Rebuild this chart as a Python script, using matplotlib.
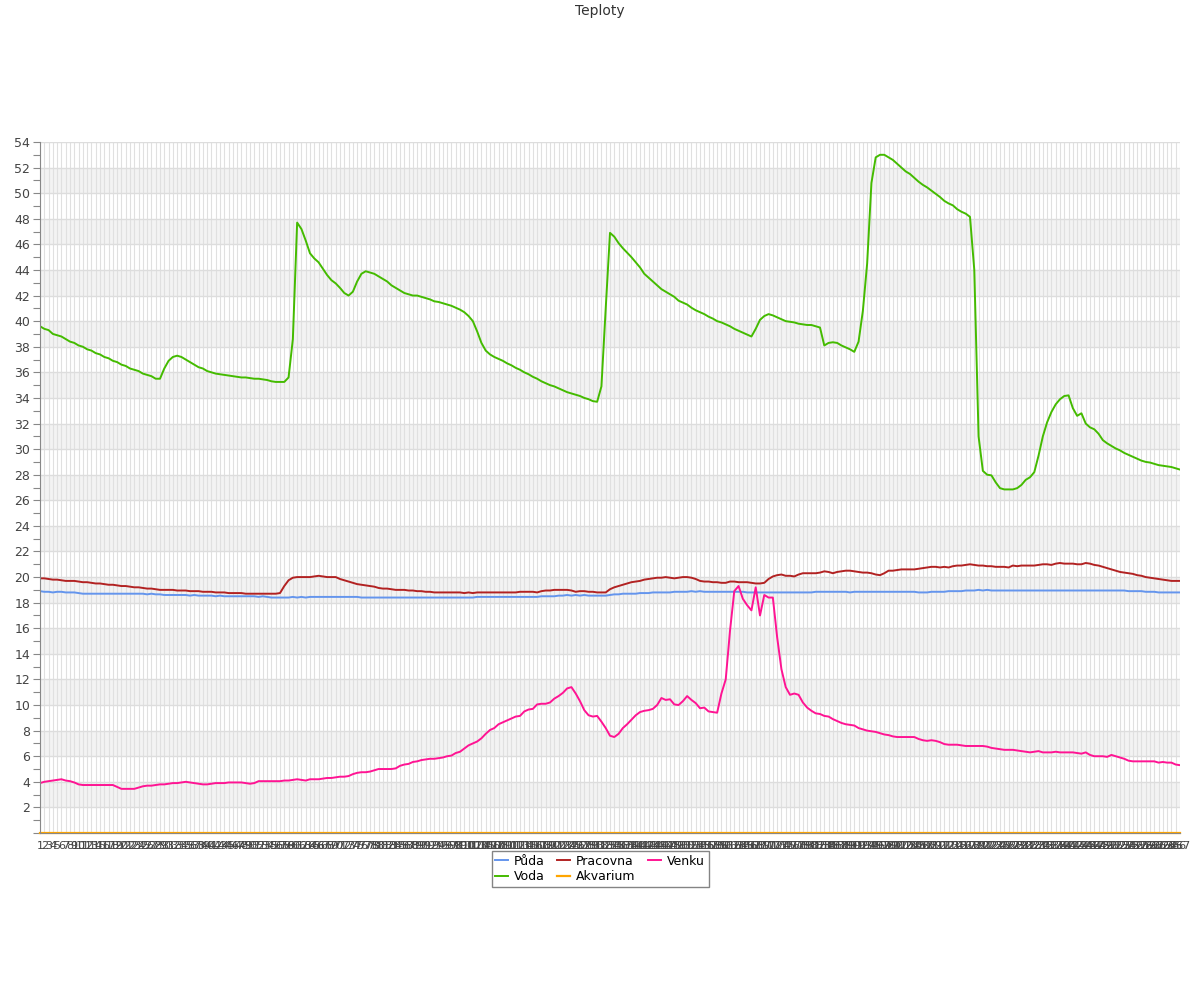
import matplotlib
matplotlib.use("Agg")
import matplotlib.pyplot as plt
from matplotlib.ticker import MultipleLocator

# temperature readings, one value per sample (267 samples)
puda = [
    18.9, 18.85, 18.85, 18.8, 18.85, 18.85, 18.8, 18.8, 18.8, 18.75,
    18.7, 18.7, 18.7, 18.7, 18.7, 18.7, 18.7, 18.7, 18.7, 18.7,
    18.7, 18.7, 18.7, 18.7, 18.7, 18.65, 18.7, 18.65, 18.65, 18.6,
    18.6, 18.6, 18.6, 18.6, 18.6, 18.55, 18.6, 18.55, 18.55, 18.55,
    18.55, 18.5, 18.55, 18.5, 18.5, 18.5, 18.5, 18.5, 18.5, 18.5,
    18.5, 18.45, 18.5, 18.45, 18.4, 18.4, 18.4, 18.4, 18.4, 18.45,
    18.4, 18.45, 18.4, 18.45, 18.45, 18.45, 18.45, 18.45, 18.45, 18.45,
    18.45, 18.45, 18.45, 18.45, 18.45, 18.4, 18.4, 18.4, 18.4, 18.4,
    18.4, 18.4, 18.4, 18.4, 18.4, 18.4, 18.4, 18.4, 18.4, 18.4,
    18.4, 18.4, 18.4, 18.4, 18.4, 18.4, 18.4, 18.4, 18.4, 18.4,
    18.4, 18.4, 18.45, 18.45, 18.45, 18.45, 18.45, 18.45, 18.45, 18.45,
    18.45, 18.45, 18.45, 18.45, 18.45, 18.45, 18.45, 18.5, 18.5, 18.5,
    18.5, 18.55, 18.55, 18.6, 18.55, 18.6, 18.55, 18.6, 18.55, 18.55,
    18.55, 18.55, 18.55, 18.6, 18.65, 18.65, 18.7, 18.7, 18.7, 18.7,
    18.75, 18.75, 18.75, 18.8, 18.8, 18.8, 18.8, 18.8, 18.85, 18.85,
    18.85, 18.85, 18.9, 18.85, 18.9, 18.85, 18.85, 18.85, 18.85, 18.85,
    18.85, 18.85, 18.85, 18.85, 18.85, 18.8, 18.8, 18.8, 18.8, 18.8,
    18.8, 18.8, 18.8, 18.8, 18.8, 18.8, 18.8, 18.8, 18.8, 18.8,
    18.8, 18.85, 18.85, 18.85, 18.85, 18.85, 18.85, 18.85, 18.85, 18.8,
    18.85, 18.85, 18.85, 18.85, 18.85, 18.85, 18.85, 18.85, 18.85, 18.85,
    18.85, 18.85, 18.85, 18.85, 18.85, 18.8, 18.8, 18.8, 18.85, 18.85,
    18.85, 18.85, 18.9, 18.9, 18.9, 18.9, 18.95, 18.95, 18.95, 19.0,
    18.95, 19.0, 18.95, 18.95, 18.95, 18.95, 18.95, 18.95, 18.95, 18.95,
    18.95, 18.95, 18.95, 18.95, 18.95, 18.95, 18.95, 18.95, 18.95, 18.95,
    18.95, 18.95, 18.95, 18.95, 18.95, 18.95, 18.95, 18.95, 18.95, 18.95,
    18.95, 18.95, 18.95, 18.95, 18.9, 18.9, 18.9, 18.9, 18.85, 18.85,
    18.85, 18.8, 18.8, 18.8, 18.8, 18.8, 18.8,
]

voda = [
    39.6, 39.4, 39.3, 39.0, 38.9, 38.8, 38.6, 38.4, 38.3, 38.1,
    38.0, 37.8, 37.7, 37.5, 37.4, 37.2, 37.1, 36.9, 36.8, 36.6,
    36.5, 36.3, 36.2, 36.1, 35.9, 35.8, 35.7, 35.5, 35.5, 36.3,
    36.9, 37.2, 37.3, 37.2, 37.0, 36.8, 36.6, 36.4, 36.3, 36.1,
    36.0, 35.9, 35.85, 35.8, 35.75, 35.7, 35.65, 35.6, 35.6, 35.55,
    35.5, 35.5, 35.45, 35.4, 35.3, 35.25, 35.25, 35.25, 35.6, 38.6,
    47.7, 47.2, 46.3, 45.3, 44.9, 44.6, 44.1, 43.6, 43.2, 42.95,
    42.6, 42.2, 42.0, 42.3, 43.1, 43.7, 43.9, 43.8, 43.7, 43.5,
    43.3, 43.1, 42.8, 42.6, 42.4, 42.2, 42.1, 42.0, 42.0, 41.9,
    41.8, 41.7, 41.55, 41.5, 41.4, 41.3, 41.2, 41.05, 40.9, 40.7,
    40.4, 40.0, 39.2, 38.3, 37.7, 37.4, 37.2, 37.05, 36.9, 36.7,
    36.55, 36.35, 36.2, 36.0, 35.85, 35.65, 35.5, 35.3, 35.15, 35.0,
    34.9, 34.75, 34.6, 34.45, 34.35, 34.25, 34.15, 34.0, 33.9, 33.75,
    33.7, 34.9, 41.0, 46.9, 46.6, 46.1, 45.7, 45.35, 45.0, 44.6,
    44.2, 43.7, 43.4, 43.1, 42.8, 42.5, 42.3, 42.1, 41.9, 41.6,
    41.45, 41.3, 41.05, 40.85, 40.7, 40.55, 40.35, 40.2, 40.0, 39.9,
    39.75, 39.6, 39.4, 39.25, 39.1, 38.95, 38.8, 39.4, 40.1, 40.4,
    40.55, 40.45, 40.3, 40.15, 40.0, 39.95, 39.9, 39.8, 39.75, 39.7,
    39.7, 39.6, 39.5, 38.1, 38.3, 38.35, 38.3, 38.1, 37.95, 37.8,
    37.6, 38.4, 40.8, 44.5, 50.8, 52.8, 53.0, 53.0, 52.8, 52.6,
    52.3, 52.0, 51.7, 51.5, 51.2, 50.9, 50.65, 50.45, 50.2, 49.95,
    49.7, 49.4, 49.2, 49.05, 48.75, 48.55, 48.4, 48.15, 44.0, 31.0,
    28.3, 28.0, 27.95, 27.4, 26.95, 26.85, 26.85, 26.85, 26.95, 27.2,
    27.6, 27.8, 28.2, 29.5, 31.0, 32.1, 32.9, 33.5, 33.9, 34.15,
    34.2, 33.2, 32.6, 32.8, 32.0, 31.7, 31.55, 31.2, 30.7, 30.45,
    30.25, 30.05, 29.9, 29.7, 29.55, 29.4, 29.25, 29.1, 29.0, 28.95,
    28.85, 28.75, 28.7, 28.65, 28.6, 28.5, 28.4,
]

pracovna = [
    19.9, 19.9, 19.85, 19.8, 19.8, 19.75, 19.7, 19.7, 19.7, 19.65,
    19.6, 19.6, 19.55, 19.5, 19.5, 19.45, 19.4, 19.4, 19.35, 19.3,
    19.3, 19.25, 19.2, 19.2, 19.15, 19.1, 19.1, 19.05, 19.0, 19.0,
    19.0, 19.0, 18.95, 18.95, 18.95, 18.9, 18.9, 18.9, 18.85, 18.85,
    18.85, 18.8, 18.8, 18.8, 18.75, 18.75, 18.75, 18.75, 18.7, 18.7,
    18.7, 18.7, 18.7, 18.7, 18.7, 18.7, 18.75, 19.3, 19.75, 19.95,
    20.0, 20.0, 20.0, 20.0, 20.05, 20.1, 20.05, 20.0, 20.0, 20.0,
    19.85, 19.75, 19.65, 19.55, 19.45, 19.4, 19.35, 19.3, 19.25, 19.15,
    19.1, 19.1, 19.05, 19.0, 19.0, 19.0, 18.95, 18.95, 18.9, 18.9,
    18.85, 18.85, 18.8, 18.8, 18.8, 18.8, 18.8, 18.8, 18.8, 18.75,
    18.8, 18.75, 18.8, 18.8, 18.8, 18.8, 18.8, 18.8, 18.8, 18.8,
    18.8, 18.8, 18.85, 18.85, 18.85, 18.85, 18.8, 18.9, 18.95, 18.95,
    19.0, 19.0, 19.0, 19.0, 18.95, 18.85, 18.9, 18.9, 18.85, 18.85,
    18.8, 18.8, 18.8, 19.05, 19.2, 19.3, 19.4, 19.5, 19.6, 19.65,
    19.7, 19.8, 19.85, 19.9, 19.95, 19.95, 20.0, 19.95, 19.9, 19.95,
    20.0, 20.0, 19.95, 19.85, 19.7, 19.65, 19.65, 19.6, 19.6, 19.55,
    19.55, 19.65, 19.65, 19.6, 19.6, 19.6, 19.55, 19.5, 19.5, 19.55,
    19.85, 20.05, 20.15, 20.2, 20.1, 20.1, 20.05, 20.2, 20.3, 20.3,
    20.3, 20.3, 20.35, 20.45, 20.4, 20.3, 20.4, 20.45, 20.5, 20.5,
    20.45, 20.4, 20.35, 20.35, 20.3, 20.2, 20.15, 20.3, 20.5, 20.5,
    20.55, 20.6, 20.6, 20.6, 20.6, 20.65, 20.7, 20.75, 20.8, 20.8,
    20.75, 20.8, 20.75, 20.85, 20.9, 20.9, 20.95, 21.0, 20.95, 20.9,
    20.9, 20.85, 20.85, 20.8, 20.8, 20.8, 20.75, 20.9, 20.85, 20.9,
    20.9, 20.9, 20.9, 20.95, 21.0, 21.0, 20.95, 21.05, 21.1, 21.05,
    21.05, 21.05, 21.0, 21.0, 21.1, 21.05, 20.95, 20.9, 20.8, 20.7,
    20.6, 20.5, 20.4, 20.35, 20.3, 20.25, 20.15, 20.1, 20.0, 19.95,
    19.9, 19.85, 19.8, 19.75, 19.7, 19.7, 19.7,
]

akvarium = [0.0] * 267

venku = [
    3.9, 4.0, 4.05, 4.1, 4.15, 4.2, 4.1, 4.05, 3.95, 3.8,
    3.75, 3.75, 3.75, 3.75, 3.75, 3.75, 3.75, 3.75, 3.6, 3.45,
    3.45, 3.45, 3.45, 3.55, 3.65, 3.7, 3.7, 3.75, 3.8, 3.8,
    3.85, 3.9, 3.9, 3.95, 4.0, 3.95, 3.9, 3.85, 3.8, 3.8,
    3.85, 3.9, 3.9, 3.9, 3.95, 3.95, 3.95, 3.95, 3.9, 3.85,
    3.9, 4.05, 4.05, 4.05, 4.05, 4.05, 4.05, 4.1, 4.1, 4.15,
    4.2, 4.15, 4.1, 4.2, 4.2, 4.2, 4.25, 4.3, 4.3, 4.35,
    4.4, 4.4, 4.45, 4.6, 4.7, 4.75, 4.75, 4.8, 4.9, 5.0,
    5.0, 5.0, 5.0, 5.05, 5.25, 5.35, 5.4, 5.55, 5.6, 5.7,
    5.75, 5.8, 5.8, 5.85, 5.9, 6.0, 6.05, 6.25, 6.35, 6.6,
    6.85, 7.0, 7.15, 7.4, 7.75, 8.05, 8.2, 8.5, 8.65, 8.8,
    8.95, 9.1, 9.15, 9.5, 9.65, 9.7, 10.05, 10.1, 10.1, 10.2,
    10.5, 10.7, 10.95, 11.3, 11.4, 10.9, 10.3, 9.6, 9.2, 9.1,
    9.15, 8.7, 8.2, 7.6, 7.5, 7.75, 8.2, 8.5, 8.85, 9.2,
    9.45, 9.55, 9.6, 9.7, 10.0, 10.55, 10.4, 10.45, 10.05, 10.0,
    10.3, 10.7, 10.4, 10.15, 9.75, 9.8, 9.5, 9.45, 9.4, 10.9,
    12.0, 15.8, 18.9, 19.3, 18.3, 17.8, 17.4, 19.2, 17.0, 18.6,
    18.4, 18.4, 15.3, 12.8, 11.4, 10.8, 10.9, 10.8, 10.2, 9.8,
    9.55, 9.35, 9.3, 9.15, 9.1, 8.9, 8.75, 8.6, 8.5, 8.45,
    8.4, 8.2, 8.1, 8.0, 7.95, 7.9, 7.8, 7.7, 7.65, 7.55,
    7.5, 7.5, 7.5, 7.5, 7.5, 7.35, 7.25, 7.2, 7.25, 7.2,
    7.1, 6.95, 6.9, 6.9, 6.9, 6.85, 6.8, 6.8, 6.8, 6.8,
    6.8, 6.75, 6.65, 6.6, 6.55, 6.5, 6.5, 6.5, 6.45, 6.4,
    6.35, 6.3, 6.35, 6.4, 6.3, 6.3, 6.3, 6.35, 6.3, 6.3,
    6.3, 6.3, 6.25, 6.2, 6.3, 6.1, 6.0, 6.0, 6.0, 5.95,
    6.1, 6.0, 5.9, 5.8, 5.65, 5.6, 5.6, 5.6, 5.6, 5.6,
    5.6, 5.5, 5.55, 5.5, 5.5, 5.35, 5.3,
]

n = len(voda)
for s in (puda, pracovna, akvarium, venku):
    assert len(s) == n, len(s)
x = list(range(n))
x_labels = [str(i + 1) for i in x]

fig = plt.figure(figsize=(12, 10), dpi=100)
ax = fig.add_axes([40 / 1200, 167 / 1000, 1140 / 1200, 691 / 1000])

# alternating grey bands
for lo in range(2, 54, 4):
    ax.axhspan(lo, lo + 2, color="#f3f3f3", zorder=0, lw=0)

l_puda, = ax.plot(x, puda, color="#6495ed", lw=1.4, label="Půda")
l_voda, = ax.plot(x, voda, color="#44bb00", lw=1.4, label="Voda")
l_prac, = ax.plot(x, pracovna, color="#b22222", lw=1.4, label="Pracovna")
l_akva, = ax.plot(x, akvarium, color="#ffa500", lw=1.6, label="Akvarium", clip_on=False)
l_venku, = ax.plot(x, venku, color="#ff1493", lw=1.4, label="Venku")

ax.set_xlim(0, n - 1)
ax.set_ylim(0, 54)
ax.set_yticks(range(0, 55, 2))
ax.set_yticklabels([""] + [str(v) for v in range(2, 55, 2)])
ax.yaxis.set_minor_locator(MultipleLocator(1))
ax.set_xticks(x)
ax.set_xticklabels(x_labels)

ax.grid(axis="y", which="major", color="#dddddd", lw=1, zorder=1)
ax.grid(axis="x", which="major", color="#e0e0e0", lw=0.8, zorder=1)
ax.set_axisbelow(True)

ax.tick_params(axis="y", which="both", length=5, width=0.8, color="#888888",
               labelcolor="#444444", labelsize=9, pad=2)
ax.tick_params(axis="x", length=0, labelcolor="#444444", labelsize=8, pad=6)

for side in ("top", "right"):
    ax.spines[side].set_visible(False)
ax.spines["left"].set_color("#888888")
ax.spines["bottom"].set_color("#888888")

fig.text(0.5, 1 - 11 / 1000, "Teploty", ha="center", va="center",
         fontsize=10, color="#333333")

leg = ax.legend(handles=[l_puda, l_voda, l_prac, l_akva, l_venku], ncol=3,
                loc="upper center", bbox_to_anchor=(0.5, 0.149),
                bbox_transform=fig.transFigure, fontsize=9, frameon=True,
                fancybox=False, edgecolor="#666666", handlelength=1.0,
                handletextpad=0.5, columnspacing=1.0, labelspacing=0.2,
                borderpad=0.3, borderaxespad=0)
leg.get_frame().set_linewidth(1)

fig.savefig("out.png", dpi=100)
